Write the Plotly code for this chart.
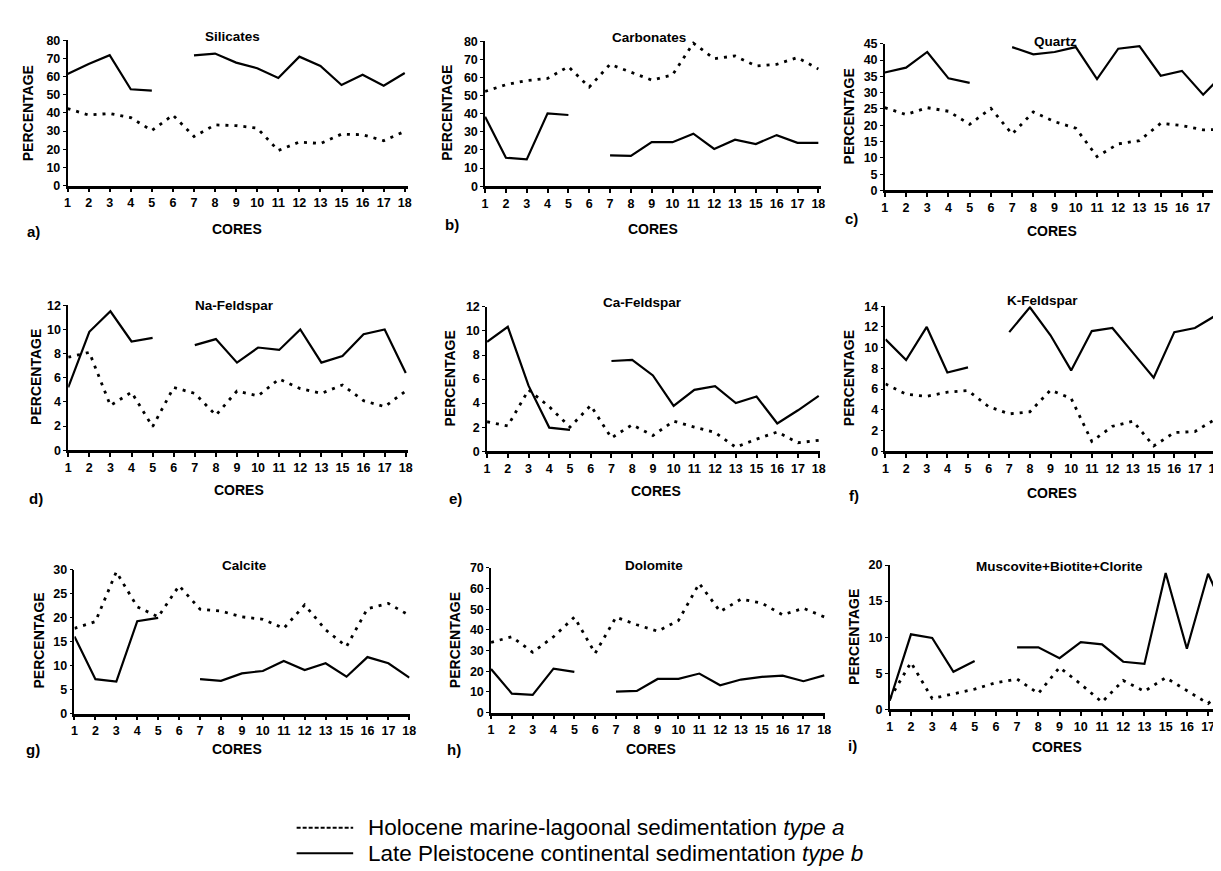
import plotly.graph_objects as go

# ---------------- data ----------------
cores = ["1", "2", "3", "4", "5", "6", "7", "8", "9", "10", "11", "12", "13", "15", "16", "17", "18"]

silicates_hol = [42.4, 38.8, 39.7, 37.4, 30.3, 38.8, 27.0, 33.4, 33.0, 31.6, 19.3, 24.0, 23.1, 28.3, 28.0, 24.7, 29.8]
silicates_ple = [61.4, 67.0, 71.8, 53.0, 52.3, None, 71.7, 72.7, 67.7, 64.6, 59.2, 71.0, 65.9, 55.4, 61.0, 55.0, 62.0]

carbonates_hol = [52.3, 56.0, 58.3, 59.5, 66.0, 54.7, 67.3, 62.8, 58.6, 61.4, 79.0, 70.4, 71.9, 66.4, 67.3, 71.0, 64.7]
carbonates_ple = [38.4, 15.7, 14.8, 40.2, 39.3, None, 17.0, 16.7, 24.4, 24.3, 29.0, 20.6, 25.7, 23.3, 28.2, 23.9, 23.9]

quartz_hol = [25.4, 23.3, 25.4, 24.3, 20.3, 25.2, 17.3, 24.1, 21.1, 19.1, 10.4, 14.3, 15.3, 20.6, 19.9, 18.6, 18.8]
quartz_ple = [36.2, 37.7, 42.5, 34.4, 33.0, None, 44.0, 41.8, 42.5, 44.0, 34.2, 43.5, 44.3, 35.2, 36.7, 29.4, 36.0]

na_feldspar_hol = [7.7, 8.1, 3.7, 4.8, 1.95, 5.2, 4.7, 2.9, 4.9, 4.5, 5.9, 5.1, 4.7, 5.4, 4.1, 3.6, 4.9]
na_feldspar_ple = [5.2, 9.8, 11.5, 9.0, 9.3, None, 8.7, 9.2, 7.25, 8.5, 8.3, 10.0, 7.25, 7.8, 9.6, 10.0, 6.4]

ca_feldspar_hol = [2.45, 2.1, 5.1, 3.7, 2.0, 3.8, 1.1, 2.2, 1.3, 2.5, 2.0, 1.55, 0.33, 1.0, 1.6, 0.7, 0.9]
ca_feldspar_ple = [9.1, 10.35, 5.45, 1.96, 1.77, None, 7.5, 7.6, 6.3, 3.76, 5.1, 5.4, 4.0, 4.55, 2.3, 3.4, 4.6]

k_feldspar_hol = [6.5, 5.5, 5.3, 5.7, 5.85, 4.3, 3.6, 3.8, 5.9, 5.1, 0.95, 2.4, 2.9, 0.5, 1.8, 1.9, 3.1]
k_feldspar_ple = [10.8, 8.8, 12.0, 7.6, 8.1, None, 11.5, 13.9, 11.2, 7.8, 11.6, 11.9, 9.5, 7.1, 11.5, 11.9, 13.1]

calcite_hol = [17.8, 19.2, 29.6, 22.3, 20.2, 26.7, 21.8, 21.4, 20.2, 19.7, 17.8, 22.7, 17.5, 14.0, 21.9, 23.0, 20.5]
calcite_ple = [16.1, 7.2, 6.7, 19.3, 20.0, None, 7.2, 6.85, 8.4, 8.9, 11.0, 9.1, 10.5, 7.7, 11.8, 10.5, 7.5]

dolomite_hol = [34.0, 36.7, 29.2, 36.7, 46.2, 28.7, 46.2, 42.5, 39.4, 44.6, 62.5, 48.9, 54.9, 53.0, 47.3, 50.5, 46.3]
dolomite_ple = [21.1, 9.2, 8.6, 21.3, 19.7, None, 10.2, 10.5, 16.3, 16.3, 18.9, 13.2, 16.0, 17.3, 17.9, 15.2, 18.0]

micas_hol = [1.5, 6.5, 1.5, 2.2, 2.8, 3.7, 4.2, 2.2, 5.8, 3.5, 1.0, 4.0, 2.5, 4.4, 2.6, 0.8, 3.5]
micas_ple = [1.2, 10.4, 9.9, 5.2, 6.7, None, 8.6, 8.6, 7.1, 9.3, 9.0, 6.6, 6.3, 18.9, 8.4, 18.8, 12.3]

titles = ["Silicates", "Carbonates", "Quartz", "Na-Feldspar", "Ca-Feldspar", "K-Feldspar",
          "Calcite", "Dolomite", "Muscovite+Biotite+Clorite"]
letters = ["a)", "b)", "c)", "d)", "e)", "f)", "g)", "h)", "i)"]
y_max = [80, 80, 45, 12, 12, 14, 30, 70, 20]
y_step = [10, 10, 5, 2, 2, 2, 5, 10, 5]
hol_series = [silicates_hol, carbonates_hol, quartz_hol, na_feldspar_hol, ca_feldspar_hol,
              k_feldspar_hol, calcite_hol, dolomite_hol, micas_hol]
ple_series = [silicates_ple, carbonates_ple, quartz_ple, na_feldspar_ple, ca_feldspar_ple,
              k_feldspar_ple, calcite_ple, dolomite_ple, micas_ple]
legend_labels = ["Holocene marine-lagoonal sedimentation <i>type a</i>",
                 "Late Pleistocene continental sedimentation <i>type b</i>"]

# ---------------- layout geometry (pixels) ----------------
W, H = 1221, 871
# x of first core, px per core, right edge of plot, y pixel of 0, y pixel of max
geom = [
    (57, 21.25, 400, 173.3, 25.7),
    (478, 21.0, 817, 174.0, 26.7),
    (881, 21.4, 1216, 178.3, 29.3),
    (57.7, 21.27, 400, 442.3, 295.0),
    (480, 20.9, 816, 443.3, 296.7),
    (881.7, 20.8, 1218, 443.3, 296.0),
    (64, 21.1, 402, 710.0, 564.0),
    (484, 21.0, 821, 709.0, 562.0),
    (886, 21.4, 1219, 705.7, 559.0),
]
title_pos = [(223, 22), (643, 23), (1053, 27), (225, 295), (637, 292), (1040, 290),
             (235, 560), (648, 559), (1057, 561)]
ylab_pos = [(18, 100), (440, 99), (845, 103), (25, 368), (443, 369), (845, 369),
            (28, 636), (447, 635), (850, 632)]
cores_pos = [(228, 217), (647, 217), (1050, 220), (230, 483), (650, 484), (1050, 486),
             (228, 746), (645, 746), (1055, 744)]
letter_pos = [(23, 220), (445, 213), (847, 207), (25, 491), (448, 491), (850, 488),
              (22, 746), (447, 746), (848, 742)]

FONT = "Liberation Sans, Arial, sans-serif"
BOLD = dict(family=FONT, color="black", weight="bold")

fig = go.Figure()
xs = list(range(len(cores)))
annotations = []
layout = {}

for i in range(9):
    n = i + 1
    sfx = "" if n == 1 else str(n)
    x1, dx, xr, y0, ytop = geom[i]
    fig.add_trace(go.Scatter(
        x=xs, y=hol_series[i], mode="lines", xaxis="x" + sfx, yaxis="y" + sfx,
        line=dict(color="black", width=2.8, dash="3px,6px"), connectgaps=False,
        showlegend=False, name="Holocene"))
    fig.add_trace(go.Scatter(
        x=xs, y=ple_series[i], mode="lines", xaxis="x" + sfx, yaxis="y" + sfx,
        line=dict(color="black", width=2.2), connectgaps=False,
        showlegend=False, name="Late Pleistocene"))
    layout["xaxis" + sfx] = dict(
        domain=[x1 / W, xr / W], range=[0, (xr - x1) / dx], anchor="y" + sfx,
        tickmode="array", tickvals=xs, ticktext=cores,
        showline=True, linecolor="black", linewidth=2.5, mirror=False,
        ticks="outside", ticklen=4, tickwidth=1.5, tickcolor="black",
        showgrid=False, zeroline=False,
        tickfont=dict(size=12.5, **BOLD))
    layout["yaxis" + sfx] = dict(
        domain=[1 - y0 / H, 1 - ytop / H], range=[0, y_max[i]], anchor="x" + sfx,
        dtick=y_step[i], tick0=0,
        showline=True, linecolor="black", linewidth=1.5,
        ticks="outside", ticklen=3, tickwidth=1.2, tickcolor="black",
        showgrid=False, zeroline=False,
        tickfont=dict(size=12.5, **BOLD))
    tx, ty = title_pos[i]
    annotations.append(dict(text=titles[i], x=tx / W, y=1 - ty / H, xref="paper", yref="paper",
                            showarrow=False, xanchor="center", yanchor="middle",
                            font=dict(size=13.5, **BOLD)))
    lx, ly = ylab_pos[i]
    annotations.append(dict(text="PERCENTAGE", x=lx / W, y=1 - ly / H, xref="paper", yref="paper",
                            showarrow=False, xanchor="center", yanchor="middle", textangle=-90,
                            font=dict(size=14, **BOLD)))
    cx, cy = cores_pos[i]
    annotations.append(dict(text="CORES", x=cx / W, y=1 - cy / H, xref="paper", yref="paper",
                            showarrow=False, xanchor="center", yanchor="middle",
                            font=dict(size=14, **BOLD)))
    ax, ay = letter_pos[i]
    annotations.append(dict(text=letters[i], x=ax / W, y=1 - ay / H, xref="paper", yref="paper",
                            showarrow=False, xanchor="center", yanchor="middle",
                            font=dict(size=15, **BOLD)))

# ---------------- legend (bottom centre) ----------------
shapes = []
leg_y = [826, 852]
leg_dash = ["4px,2px", "solid"]
for k in range(2):
    shapes.append(dict(type="line", xref="paper", yref="paper",
                       x0=288 / W, x1=345 / W, y0=1 - leg_y[k] / H, y1=1 - leg_y[k] / H,
                       line=dict(color="black", width=2, dash=leg_dash[k])))
    annotations.append(dict(text=legend_labels[k], x=358 / W, y=1 - leg_y[k] / H,
                            xref="paper", yref="paper", showarrow=False,
                            xanchor="left", yanchor="middle",
                            font=dict(family=FONT, size=22.5, color="black")))

fig.update_layout(
    width=W, height=H, margin=dict(l=0, r=0, t=0, b=0),
    paper_bgcolor="white", plot_bgcolor="white",
    showlegend=False, annotations=annotations, shapes=shapes,
    **layout)

fig.write_html("out.html")
